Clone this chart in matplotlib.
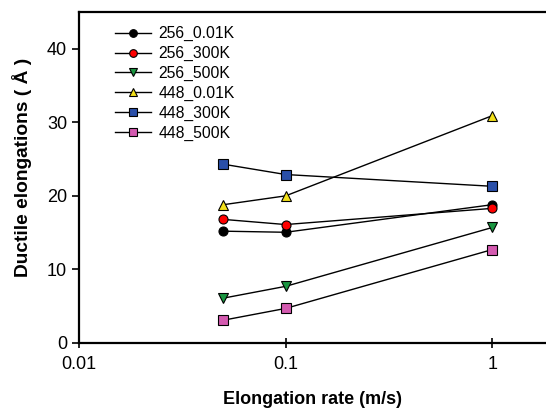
import matplotlib
matplotlib.use('Agg')
from matplotlib import pyplot as plt

plt.rcParams['font.family'] = ['Liberation Sans', 'DejaVu Sans']

# Data
rates = [0.05, 0.1, 1]
labels = ['256_0.01K', '256_300K', '256_500K', '448_0.01K', '448_300K', '448_500K']
e256_001 = [15.2, 15.05, 18.8]
e256_300 = [16.8, 16.1, 18.3]
e256_500 = [6.1, 7.7, 15.7]
e448_001 = [18.8, 20.0, 30.9]
e448_300 = [24.3, 22.9, 21.3]
e448_500 = [3.1, 4.7, 12.7]

series = [e256_001, e256_300, e256_500, e448_001, e448_300, e448_500]
markers = ['o', 'o', 'v', '^', 's', 's']
colors = ['black', 'red', '#1a9641', '#f2e01a', '#2a4fa8', '#d45ab0']

fig = plt.figure(figsize=(5.46, 4.12), dpi=100)
ax = fig.add_axes([0.1447, 0.1675, 0.8553, 0.8035])

for vals, lab, m, c in zip(series, labels, markers, colors):
    ax.plot(rates, vals, color='black', lw=1, marker=m, markersize=6.5,
            markerfacecolor=c, markeredgecolor='black', markeredgewidth=0.8,
            label=lab)

ax.set_xscale('log')
ax.set_xlim(0.01, 1.82)
ax.set_ylim(0, 45)
ax.set_xticks([0.01, 0.1, 1])
ax.set_xticklabels(['0.01', '0.1', '1'])
ax.set_yticks([0, 10, 20, 30, 40])
ax.minorticks_off()
ax.tick_params(axis='x', direction='inout', length=7, width=1.2, labelsize=13, pad=6)
ax.tick_params(axis='y', direction='out', length=5, width=1.2, labelsize=13)
ax.spines['right'].set_visible(False)
for s in ['left', 'bottom', 'top']:
    ax.spines[s].set_linewidth(1.6)

ax.set_xlabel('Elongation rate (m/s)', fontsize=13, fontweight='bold', labelpad=13)
ax.set_ylabel('Ductile elongations ( Å )', fontsize=13.8, fontweight='bold')
ax.yaxis.set_label_coords(-0.1, 0.532)

ax.legend(loc='upper left', frameon=False, fontsize=11.3, handlelength=2.3,
          handletextpad=0.5, labelspacing=0.3, markerscale=0.85,
          borderaxespad=0.3, bbox_to_anchor=(0.053, 0.99))

fig.savefig('out.png', dpi=100)
